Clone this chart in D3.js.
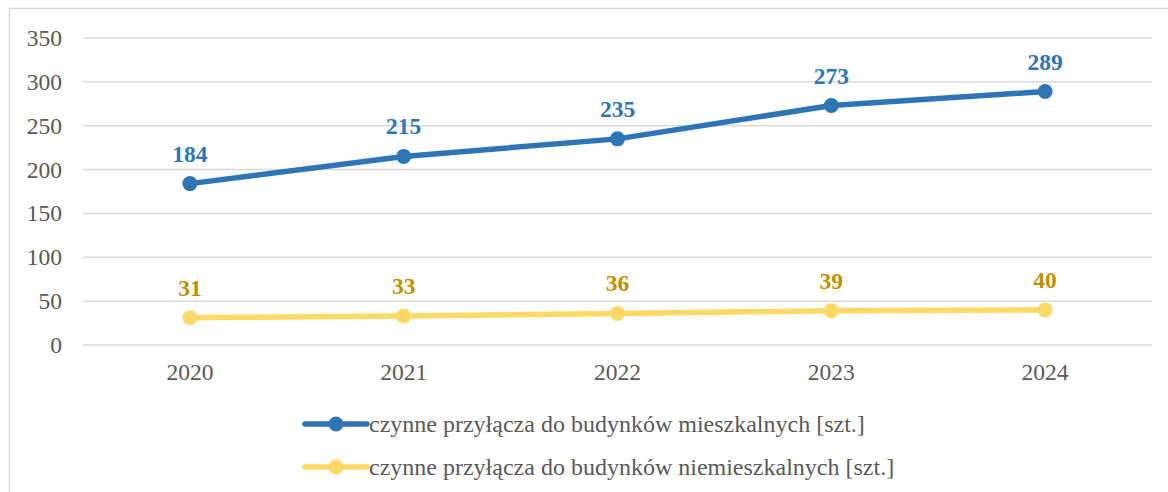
<!DOCTYPE html>
<html>
<head>
<meta charset="utf-8">
<script src="https://cdn.jsdelivr.net/npm/d3@7"></script>
<style>
  body { margin: 0; background: #fff; }
  text { font-family: "Liberation Serif", "Times New Roman", serif; }
</style>
</head>
<body>
<div id="chart"></div>
<script>
var years = ["2020", "2021", "2022", "2023", "2024"];
var mieszkalne = [184, 215, 235, 273, 289];
var niemieszkalne = [31, 33, 36, 39, 40];
var yTicks = [0, 50, 100, 150, 200, 250, 300, 350];
var seriesNames = [
  "czynne przyłącza do budynków mieszkalnych [szt.]",
  "czynne przyłącza do budynków niemieszkalnych [szt.]"
];

var svgWidth = 1168;
var svgHeight = 492;

var margin = { top: 38, right: 16, bottom: 147, left: 83 };
var width = svgWidth - margin.left - margin.right;
var height = svgHeight - margin.top - margin.bottom;

var svg = d3.select("#chart")
  .append("svg")
  .attr("width", svgWidth)
  .attr("height", svgHeight);

// outer frame
svg.append("rect")
  .attr("x", 9.5)
  .attr("y", 8.5)
  .attr("width", svgWidth)
  .attr("height", svgHeight)
  .attr("fill", "none")
  .attr("stroke", "#d9d9d9")
  .attr("stroke-width", 1.5);

var chartGroup = svg.append("g")
  .attr("transform", `translate(${margin.left}, ${margin.top})`);

var xScale = d3.scaleBand()
  .domain(years)
  .range([0, width]);

var yScale = d3.scaleLinear()
  .domain([0, 350])
  .range([height, 0]);

// gridlines
chartGroup.selectAll(".grid")
  .data(yTicks)
  .enter()
  .append("line")
  .attr("x1", 0)
  .attr("x2", width)
  .attr("y1", d => yScale(d))
  .attr("y2", d => yScale(d))
  .attr("stroke", "#d9d9d9")
  .attr("stroke-width", 1.5);

// y axis
var leftAxis = d3.axisLeft(yScale).tickValues(yTicks).tickSize(0).tickPadding(21);
var yAxisG = chartGroup.append("g").call(leftAxis);
yAxisG.select(".domain").remove();
yAxisG.selectAll("text")
  .attr("fill", "#595959")
  .style("font-size", "23.5px");

// x axis
var bottomAxis = d3.axisBottom(xScale).tickSize(0).tickPadding(18);
var xAxisG = chartGroup.append("g")
  .attr("transform", `translate(0, ${height})`)
  .call(bottomAxis);
xAxisG.select(".domain").remove();
xAxisG.selectAll("text")
  .attr("fill", "#595959")
  .style("font-size", "23.5px");

var series = [
  { name: seriesNames[0], values: mieszkalne, color: "#2e75b6", labelColor: "#2e75b6" },
  { name: seriesNames[1], values: niemieszkalne, color: "#ffd966", labelColor: "#bf9000" }
];

var line = d3.line()
  .x((d, i) => xScale(years[i]) + xScale.bandwidth() / 2)
  .y(d => yScale(d));

series.forEach(function(s) {
  chartGroup.append("path")
    .datum(s.values)
    .attr("d", line)
    .attr("fill", "none")
    .attr("stroke", s.color)
    .attr("stroke-width", 5.5)
    .attr("stroke-linecap", "round");

  chartGroup.selectAll(null)
    .data(s.values)
    .enter()
    .append("circle")
    .attr("cx", (d, i) => xScale(years[i]) + xScale.bandwidth() / 2)
    .attr("cy", d => yScale(d))
    .attr("r", 7.5)
    .attr("fill", s.color);

  chartGroup.selectAll(null)
    .data(s.values)
    .enter()
    .append("text")
    .text(d => d)
    .attr("x", (d, i) => xScale(years[i]) + xScale.bandwidth() / 2)
    .attr("y", d => yScale(d) - 22)
    .attr("text-anchor", "middle")
    .attr("fill", s.labelColor)
    .style("font-size", "23.5px")
    .style("font-weight", "bold");
});

// legend
var legend = svg.append("g");
series.forEach(function(s, i) {
  var ly = 424 + i * 43;
  legend.append("line")
    .attr("x1", 305).attr("x2", 367)
    .attr("y1", ly).attr("y2", ly)
    .attr("stroke", s.color)
    .attr("stroke-width", 5.5)
    .attr("stroke-linecap", "round");
  legend.append("circle")
    .attr("cx", 336).attr("cy", ly)
    .attr("r", 7.5)
    .attr("fill", s.color);
  legend.append("text")
    .attr("x", 369)
    .attr("y", ly + 8)
    .attr("fill", "#595959")
    .style("font-size", "24px")
    .text(s.name);
});
</script>
</body>
</html>
